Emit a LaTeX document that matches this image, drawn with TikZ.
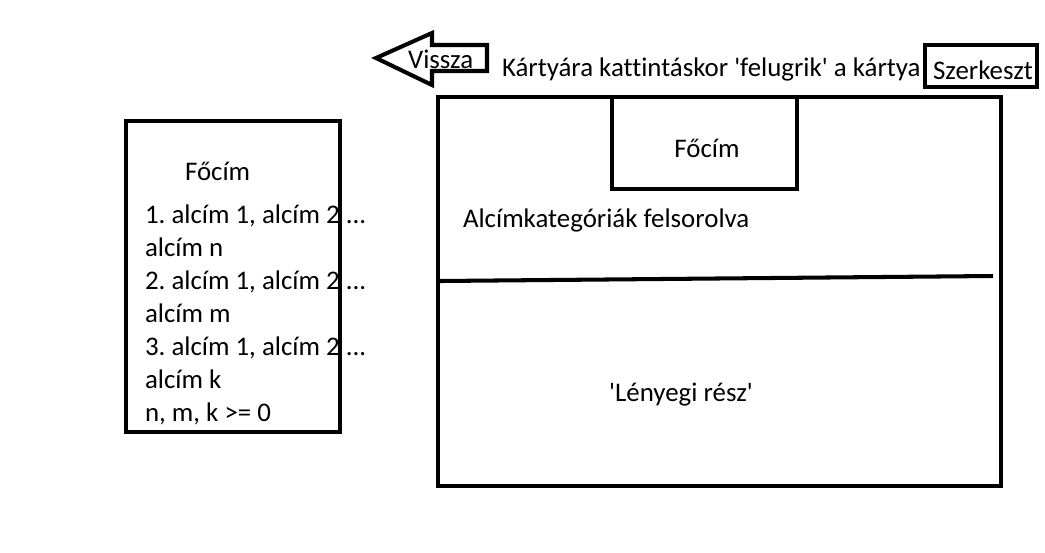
\documentclass[tikz,border=0pt]{standalone}
\usepackage{fontspec}
\setmainfont{Carlito}[Ligatures=CommonOff]
\newcommand\pontok{...}
\frenchspacing
\begin{document}
\begin{tikzpicture}[x=0.02cm, y=-0.02cm, line width=2.3pt,
    felirat/.style={inner sep=0pt, font=\fontsize{15.3}{18}\selectfont}]
    \useasboundingbox (0,0) rectangle (1045,552);

    % Vissza nyil
    \draw (376,58) -- (432,33) -- (432,45) -- (487,45) -- (487,71)
        -- (432,71) -- (432,85) -- cycle;
    \node[felirat, anchor=base west] (vissza) at (406,68) {Vissza};

    % Fejlec szoveg es Szerkeszt gomb
    \node[felirat, anchor=base west] (fejlec) at (500,76)
        {Kártyára kattintáskor \textquotesingle felugrik\textquotesingle{} a kártya};
    \draw (925,45) rectangle (1037,87);
    \node[felirat, anchor=base] (szerk) at (983,79) {Szerkeszt};

    % Bal oldali lista
    \draw (126,121) rectangle (340,432);
    \node[felirat, anchor=base west] (balcim) at (183,180) {Főcím};
    \foreach \sor [count=\i] in {{1. alcím 1, alcím 2 \pontok}, alcím n,
            {2. alcím 1, alcím 2 \pontok}, alcím m, {3. alcím 1, alcím 2 \pontok},
            alcím k, {n, m, k >= 0}}
        \node[felirat, anchor=base west] (sor\i) at (143,{190+33*\i}) {\sor};

    % Felugro kartya
    \draw (438,97) rectangle (1001,486);
    \draw (612,97) rectangle (797,189);
    \node[felirat, anchor=base] (focim) at (707,157) {Főcím};
    \node[felirat, anchor=base west] (alcimek) at (461,227) {Alcímkategóriák felsorolva};
    \draw (440,281) -- (993,276);
    \node[felirat, anchor=base] (lenyeg) at (681,401)
        {\textquotesingle Lényegi rész\textquotesingle};
\end{tikzpicture}
\end{document}
